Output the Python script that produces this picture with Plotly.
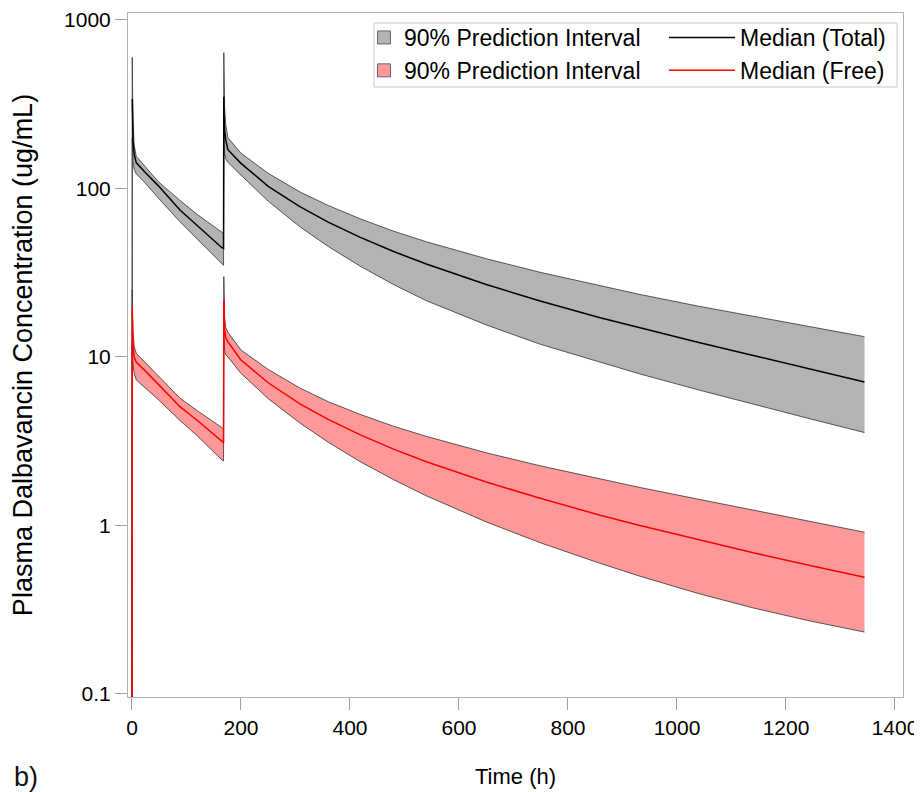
import plotly.graph_objects as go

# ---- data ----
time_h = [0, 0.5, 1, 2, 4, 8, 24, 48, 88, 120, 165, 168, 168.5, 169, 170, 172, 176,
          200, 250, 308, 360, 418, 480, 540, 650, 749, 859, 932, 1040, 1140, 1240, 1344]

total_upper = [0.001, 600, 400, 250, 180, 155, 135, 110, 85, 70, 55, 54, 640, 420, 300, 240, 200,
               162, 123, 95.5, 79.3, 66.2, 55.8, 48.3, 38.3, 31.8, 26.4, 23.5, 20.0, 17.4, 15.2, 13.2]
total_median = [None, 340, 250, 190, 160, 142, 125, 104, 74.5, 60, 44.5, 44, 350, 270, 220, 195, 170,
                141, 103, 78, 63.2, 51.4, 42.3, 35.6, 26.9, 21.5, 17.1, 14.9, 12.2, 10.2, 8.53, 7.11]
total_lower = [0.001, 200, 170, 145, 130, 122, 108, 88, 63.5, 50, 35.5, 35, 200, 175, 160, 150, 143,
               120, 84, 59.3, 45.3, 34.7, 26.9, 21.6, 15.5, 11.9, 9.27, 7.93, 6.37, 5.24, 4.33, 3.56]

free_upper = [0.001, 25, 18, 14, 11.5, 10.5, 9.3, 7.7, 5.7, 4.8, 3.78, 3.75, 30, 22, 17, 15, 14,
              11, 8.43, 6.55, 5.43, 4.57, 3.88, 3.38, 2.70, 2.26, 1.89, 1.68, 1.43, 1.23, 1.06, 0.912]
free_median = [0.001, 20, 15, 12, 10, 9.3, 8.3, 6.9, 5.07, 4.2, 3.14, 3.1, 22, 17, 14.5, 13, 12.3,
               9.6, 7.03, 5.27, 4.26, 3.46, 2.84, 2.39, 1.81, 1.45, 1.15, 1.0, 0.82, 0.689, 0.583, 0.493]
free_lower = [0.001, 12, 10, 9, 8, 7.3, 6.6, 5.6, 4.2, 3.4, 2.45, 2.42, 13, 11.5, 10.8, 10.3, 10,
              8.0, 5.66, 4.06, 3.12, 2.40, 1.87, 1.50, 1.05, 0.79, 0.596, 0.5, 0.394, 0.324, 0.273, 0.233]

x_ticks = [0, 200, 400, 600, 800, 1000, 1200, 1400]
y_ticks = [0.1, 1, 10, 100, 1000]
y_tick_labels = ["0.1", "1", "10", "100", "1000"]

legend_labels = ["90% Prediction Interval", "90% Prediction Interval", "Median (Total)", "Median (Free)"]

# ---- styles ----
FONT = "Arial, Liberation Sans, sans-serif"
GRAY_FILL = "#b3b3b3"
RED_FILL = "#ff9999"
EDGE = "rgba(60,60,60,0.85)"

fig = go.Figure()

# total band
fig.add_trace(go.Scatter(x=time_h, y=total_lower, mode="lines",
                         line=dict(color=EDGE, width=1), showlegend=False, hoverinfo="skip"))
fig.add_trace(go.Scatter(x=time_h, y=total_upper, mode="lines", fill="tonexty",
                         fillcolor=GRAY_FILL, line=dict(color=EDGE, width=1),
                         showlegend=False, hoverinfo="skip"))
# free band
fig.add_trace(go.Scatter(x=time_h, y=free_lower, mode="lines",
                         line=dict(color=EDGE, width=1), showlegend=False, hoverinfo="skip"))
fig.add_trace(go.Scatter(x=time_h, y=free_upper, mode="lines", fill="tonexty",
                         fillcolor=RED_FILL, line=dict(color=EDGE, width=1),
                         showlegend=False, hoverinfo="skip"))
# medians
fig.add_trace(go.Scatter(x=time_h, y=total_median, mode="lines", name=legend_labels[2],
                         line=dict(color="black", width=1.5), legend="legend2", legendrank=1))
fig.add_trace(go.Scatter(x=time_h, y=free_median, mode="lines", name=legend_labels[3],
                         line=dict(color="#ff0000", width=1.5), legend="legend2", legendrank=2))

# legend-only swatches for the prediction intervals
fig.add_trace(go.Scatter(x=[None], y=[None], mode="markers", name=legend_labels[0],
                         marker=dict(symbol="square", size=13, color=GRAY_FILL,
                                     line=dict(color="#666666", width=1)),
                         legend="legend", legendrank=1))
fig.add_trace(go.Scatter(x=[None], y=[None], mode="markers", name=legend_labels[1],
                         marker=dict(symbol="square", size=13, color=RED_FILL,
                                     line=dict(color="#666666", width=1)),
                         legend="legend", legendrank=2))

# page body adds an 8px offset; the figure is sized so the plot lands where the reference has it
OFF = 8
W, H = 922 - OFF, 792 - OFF
PL, PR, PT, PB = 128, 903, 13, 697          # plot area on screen
L, T = PL - OFF, PT - OFF
R, B = W - (PR - OFF), H - (PB - OFF)
pw, ph = PR - PL, PB - PT


def px_x(p):
    return (p - PL) / pw


def px_y(p):
    return (PB - p) / ph


fig.update_layout(
    width=W, height=H,
    margin=dict(l=L, r=R, t=T, b=B, pad=0, autoexpand=False),
    paper_bgcolor="white", plot_bgcolor="white",
    font=dict(family=FONT, size=21, color="black"),
    legend=dict(x=px_x(364), y=px_y(16), xanchor="left", yanchor="top",
                bgcolor="rgba(0,0,0,0)", borderwidth=0, font=dict(size=23),
                itemwidth=30, tracegroupgap=0, traceorder="normal"),
    legend2=dict(x=px_x(664), y=px_y(16), xanchor="left", yanchor="top",
                 bgcolor="rgba(0,0,0,0)", borderwidth=0, font=dict(size=23),
                 itemwidth=66, tracegroupgap=0, traceorder="normal"),
    shapes=[dict(type="rect", xref="paper", yref="paper",
                 x0=px_x(374), x1=px_x(897), y0=px_y(87), y1=px_y(23),
                 line=dict(color="#c8c8c8", width=1), layer="above")],
    annotations=[dict(text="b)", xref="paper", yref="paper", x=px_x(12), y=px_y(760),
                      xanchor="left", yanchor="top", showarrow=False,
                      font=dict(family=FONT, size=27, color="#111111"))],
)

fig.update_xaxes(
    range=[-7.3, 1414.7], tickvals=x_ticks, ticks="outside", ticklen=12, tickwidth=1,
    tickcolor="#a0a0a0", showline=True, linecolor="#b0b0b0", linewidth=1, mirror=True,
    showgrid=False, zeroline=False, tickfont=dict(size=21), automargin=False,
    title=dict(text="Time (h)", font=dict(size=22), standoff=30),
)
fig.update_yaxes(
    type="log", range=[-1.018, 3.0415], tickvals=y_ticks, ticktext=y_tick_labels,
    ticks="outside", ticklen=12, tickwidth=1, tickcolor="#a0a0a0",
    showline=True, linecolor="#b0b0b0", linewidth=1, mirror=True,
    showgrid=False, zeroline=False, tickfont=dict(size=21), automargin=False,
    title=dict(text="Plasma Dalbavancin Concentration (ug/mL)", font=dict(size=27), standoff=24),
)

fig.write_html("out.html")
